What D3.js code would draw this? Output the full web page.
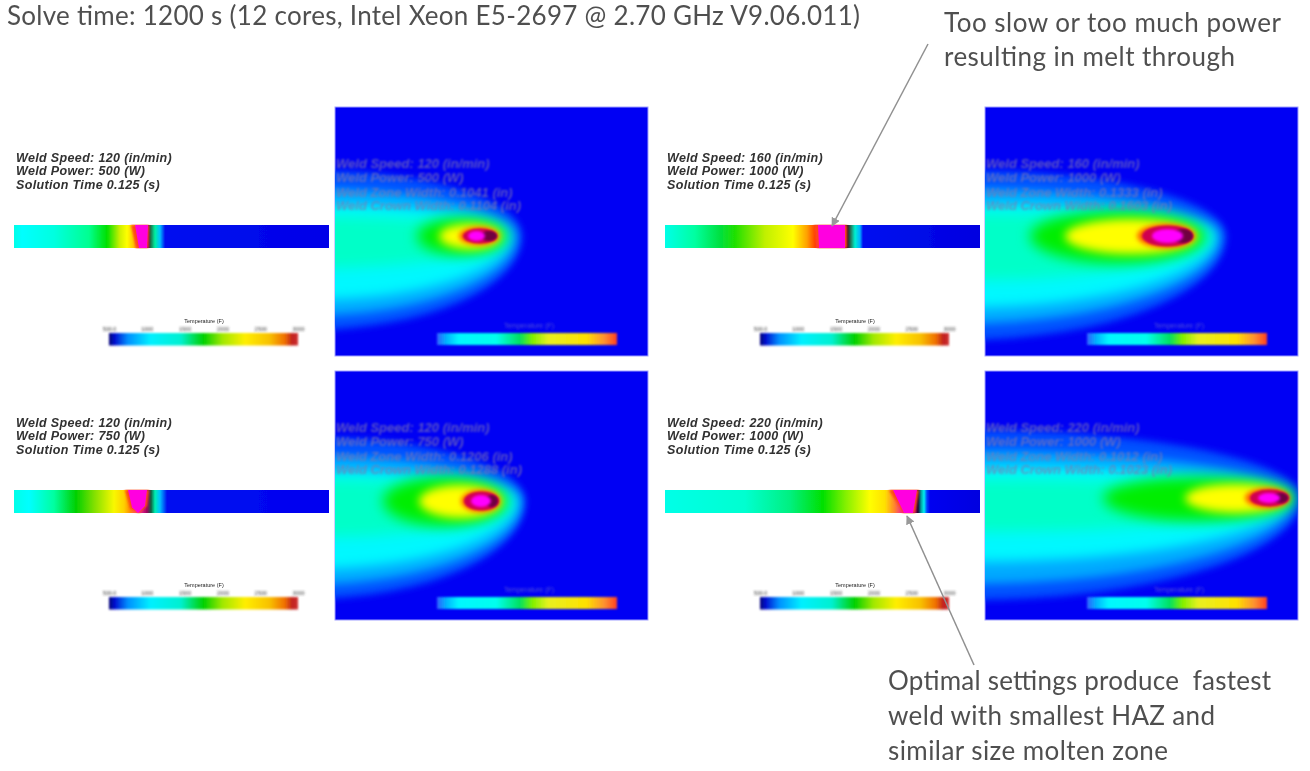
<!DOCTYPE html>
<html><head><meta charset="utf-8">
<script src="https://cdn.jsdelivr.net/npm/d3@7/dist/d3.min.js"></script>
<style>html,body{margin:0;padding:0;background:#fff;overflow:hidden}svg{display:block}</style>
</head><body><svg id="c" width="1310" height="771"></svg>
<script>
// ---------- data ----------
const weldSpeeds = [120, 160, 120, 220];
const weldPowers = [500, 1000, 750, 1000];
const solutionTime = 0.125;
const zoneWidths = ["0.1041", "0.1333", "0.1206", "0.1012"];
const crownWidths = ["0.1104", "0.1603", "0.1288", "0.1023"];
const barTicks = [500, 1000, 1500, 2000, 2500, 3000];
const barTickLabels = ["500.0", "1000", "1500", "2000", "2500", "3000"];
const barColors = [[0,"#000070"],[.03,"#0010d0"],[.1,"#0090ff"],[.22,"#00f0ff"],[.38,"#00f0d0"],[.5,"#00d000"],[.6,"#a0e800"],[.72,"#ffee00"],[.85,"#f8c000"],[.93,"#f07000"],[.97,"#c02020"],[1,"#d03030"]];
const insetBarColors = [[0,"#3060ff"],[.05,"#00b0ff"],[.12,"#00f8ff"],[.33,"#00ffee"],[.46,"#00e060"],[.53,"#80f000"],[.62,"#e8f020"],[.83,"#ffe000"],[.93,"#ff9030"],[1,"#ff4020"]];

// colour of each temperature level, from the coolest to the hottest
const levelColors = ["#0050ff","#00a8ff","#00f8ff","#00ffc8","#00ee00","#ffff00","#ff6000","#d00050","#700040","#ff00ff"];
const levelBlur = [3.5,5,6,7,7,5,2.5,1.2,1.2,1.5];
// temperature zones in the plan views: [left, right, above, below]
const planZones = [
 [[-243,187,66,94],[-230,181,48,80],[-222,175,32,64],[-215,167,20,32],[82,172,18,19],[104,166,12,13],[124,164,9,9],[128,162,7.5,7.5],[146,162,5,5],[133,150,5,5]],
 [[-290,241,66,104],[-280,235,48,88],[-272,229,32,72],[-262,225,23,44],[45,220,25,27],[80,212,17,18],[152,210,12,12],[157,208,10.5,10.5],[188,208,7,7],[167,198,7,7]],
 [[-247,190,64,98],[-235,186,46,84],[-226,181,30,68],[-218,175,22,36],[48,172,24,25],[84,167,16,17],[126,165,11,11],[129,164,9.5,9.5],[150,163,6,6],[136,156,6,6]],
 [[-350,316,68,102],[-340,309,48,86],[-330,304,32,64],[-320,299,19,34],[118,310,21,23],[200,302,14,15],[260,305,10,10],[265,304,8.5,8.5],[288,303,5,5],[273,295,5,5]]
];
// temperature along each side-view strip: [position, colour]
const stripStops = [
 [[0,"#00ffe8"],[8,"#00ffff"],[40,"#00ffe0"],[75,"#00ff90"],[93,"#00e000"],[106,"#d0f000"],[113,"#ffff00"],[120,"#ffc000"],[128,"#ff0060"],[134,"#a00060"],[136,"#206040"],[141,"#00f0a0"],[146,"#00c0ff"],[151,"#0010f0"],[315,"#0000e8"]],
 [[0,"#00ffe8"],[30,"#00ffa0"],[55,"#00e040"],[70,"#20e000"],[100,"#c0f000"],[128,"#ffff00"],[142,"#ffa000"],[150,"#ff4000"],[156,"#ff00c0"],[178,"#e000c0"],[182,"#300020"],[186,"#208060"],[190,"#00f0d0"],[195,"#00b0ff"],[198,"#0010f0"],[314,"#0000e0"]],
 [[0,"#00ffe8"],[15,"#00ffff"],[40,"#00ffa0"],[62,"#00d000"],[80,"#80e000"],[100,"#f8f800"],[110,"#ffd000"],[116,"#ff9000"],[125,"#ff30a0"],[133,"#a00060"],[137,"#106040"],[141,"#00f0b0"],[146,"#00c0ff"],[153,"#0010f0"],[315,"#0000f0"]],
 [[0,"#00ffe8"],[80,"#00ffd0"],[125,"#00f080"],[158,"#00e000"],[180,"#80f000"],[205,"#ffff00"],[220,"#ffe000"],[230,"#ff8030"],[240,"#f000c0"],[250,"#900070"],[253,"#200030"],[256,"#00a0a0"],[259,"#00f0f0"],[262,"#0040ff"],[265,"#0000f0"],[314,"#0000e0"]]
];
// melt pool outline in each strip: [position along, fraction of depth]
const poolHalos = [
 [[117,0],[135,0],[134,1],[122,1]],
 [[149,0],[182,0],[182,1],[152,1]],
 [[111,0],[135,0],[133,.7],[125,1],[116,.8]],
 [[224,0],[254,0],[250,1],[238,1]]
];
const poolOutlines = [
 [[121,0],[134,0],[133,1],[125,1]],
 [[153,0],[180,0],[180,1],[154,1]],
 [[114,0],[133,0],[131,.7],[124,1],[118,.75]],
 [[228,0],[252,0],[248,1],[239,1]]
];
const titleText = "Solve time: 1200 s (12 cores, Intel Xeon E5-2697 @ 2.70 GHz V9.06.011)";
const noteTop = ["Too slow or too much power","resulting in melt through"];
const noteBottom = ["Optimal settings produce  fastest","weld with smallest HAZ and","similar size molten zone"];

// ---------- layout ----------
const colStrip = [14, 665], colPlan = [335, 985], rowPlanTop = [107, 371], rowStripTop = [225, 490];
const planW = 313, planH = 249, stripW = 315, stripH = 23;
const planCentre = [129, 129, 130, 127];
const svg = d3.select("#c");
const defs = svg.append("defs");
function blur(id, s){ defs.append("filter").attr("id",id).attr("x","-40%").attr("y","-80%").attr("width","180%").attr("height","260%")
  .append("feGaussianBlur").attr("stdDeviation",s); }
blur("tx",.6); blur("txs",.8); blur("txb",.65); blur("edge",.6); blur("halo",1.1); blur("bb",1); blur("arrowb",.6);
levelBlur.forEach((s,i)=>blur("lv"+i,s));
function gradient(id, stops, maxPos){
  const g = defs.append("linearGradient").attr("id",id);
  const sc = d3.scaleLinear().domain([0,maxPos]).range([0,1]);
  stops.forEach(d=>g.append("stop").attr("offset",sc(d[0])).attr("stop-color",d[1]));
}
gradient("bar",barColors,1); gradient("ibar",insetBarColors,1);
stripStops.forEach((s,i)=>gradient("strip"+i,s,stripW));

d3.range(4).forEach(i=>{
  const col = i%2, row = i<2 ? 0 : 1;
  const px = colPlan[col], py = rowPlanTop[row];
  const x = d3.scaleLinear().domain([0,planW]).range([px,px+planW]);
  const y = d3.scaleLinear().domain([0,planH]).range([py,py+planH]);
  const c = planCentre[i];
  defs.append("clipPath").attr("id","cp"+i).append("rect").attr("x",px).attr("y",py).attr("width",planW).attr("height",planH);
  svg.append("rect").attr("x",px).attr("y",py).attr("width",planW).attr("height",planH).attr("fill","#0000f4")
     .attr("stroke","#a0a0ff").attr("stroke-width",1);
  const plan = svg.append("g").attr("clip-path",`url(#cp${i})`);
  plan.selectAll("path.z").data(planZones[i]).join("path").attr("class","z")
    .attr("fill",(d,k)=>levelColors[k]).attr("filter",(d,k)=>`url(#lv${k})`)
    .attr("d",d=>{
      const cx=(x(d[0])+x(d[1]))/2, rx=(x(d[1])-x(d[0]))/2, cy=y(c);
      const ta=y(c)-y(c-d[2]), tb=y(c+d[3])-y(c);
      return `M${cx-rx},${cy}A${rx},${ta} 0 0 1 ${cx+rx},${cy}A${rx},${tb} 0 0 1 ${cx-rx},${cy}Z`;
    });
  // plan-view text
  const planLines = [`Weld Speed: ${weldSpeeds[i]} (in/min)`,`Weld Power: ${weldPowers[i]} (W)`,`Weld Zone Width: ${zoneWidths[i]} (in)`,`Weld Crown Width: ${crownWidths[i]} (in)`];
  const planY = [57,71,86,99];
  plan.selectAll("text.l").data(planLines).join("text").attr("class","l")
    .attr("x",px+1).attr("y",(d,k)=>y(planY[k])+4).text(d=>d)
    .attr("font-family","Liberation Sans").attr("font-size",13).attr("font-style","italic").attr("font-weight","bold")
    .attr("fill","#8078b0").attr("opacity",.7).attr("filter","url(#txs)");
  // plan-view inset colour bar
  const ibx = colPlan[col] + 102;
  plan.append("rect").attr("x",ibx).attr("y",py+226).attr("width",180).attr("height",12).attr("fill","url(#ibar)").attr("filter","url(#bb)");
  plan.append("text").attr("x",ibx+92).attr("y",py+221).attr("text-anchor","middle").text("Temperature (F)")
    .attr("font-family","Liberation Sans").attr("font-size",7).attr("fill","#5050d8").attr("filter","url(#bb)");

  // side-view strip
  const sx0 = colStrip[col], sy0 = rowStripTop[row];
  const sx = d3.scaleLinear().domain([0,stripW]).range([sx0,sx0+stripW]);
  const sy = d3.scaleLinear().domain([0,1]).range([sy0,sy0+stripH]);
  svg.append("rect").attr("x",sx0).attr("y",sy0).attr("width",stripW).attr("height",stripH)
    .attr("fill",`url(#strip${i})`).attr("filter","url(#edge)");
  defs.append("clipPath").attr("id","sp"+i).append("rect").attr("x",sx0).attr("y",sy0-1).attr("width",stripW).attr("height",stripH+2);
  const sg = svg.append("g").attr("clip-path",`url(#sp${i})`);
  const line = d3.line().x(d=>sx(d[0])).y(d=>sy(d[1])).curve(d3.curveLinearClosed);
  sg.append("path").datum(poolHalos[i]).attr("d",line).attr("fill","#ff4818").attr("filter","url(#halo)");
  sg.append("path").datum(poolOutlines[i]).attr("d",line).attr("fill","#ff00e0").attr("filter","url(#edge)");

  // side-view labels
  const labels = [`Weld Speed: ${weldSpeeds[i]} (in/min)`,`Weld Power: ${weldPowers[i]} (W)`,`Solution Time ${solutionTime} (s)`];
  const labelTop = [162,427];
  svg.selectAll(null).data(labels).join("text")
    .attr("x",sx0+2).attr("y",(d,k)=>labelTop[row]+k*13.3).text(d=>d)
    .attr("font-family","Liberation Sans").attr("font-size",12.5).attr("font-style","italic").attr("font-weight","bold")
    .attr("letter-spacing",.35).attr("fill","#303030").attr("filter","url(#tx)");

  // colour bar with axis
  const bx0 = sx0 + 95, by0 = [333,597][row], bw = 189, bh = 12.5;
  const bscale = d3.scalePoint().domain(barTicks).range([bx0,bx0+bw]);
  svg.append("rect").attr("x",bx0).attr("y",by0).attr("width",bw).attr("height",bh).attr("fill","url(#bar)").attr("filter","url(#bb)");
  const ag = svg.append("g").attr("transform",`translate(0,${by0-2})`).attr("filter","url(#bb)")
    .call(d3.axisTop(bscale).tickSize(0).tickPadding(0).tickFormat((d,k)=>barTickLabels[k]));
  ag.select(".domain").remove();
  ag.selectAll("text").attr("font-family","Liberation Sans").attr("font-size",5.5).attr("fill","#444");
  svg.append("text").attr("x",bx0+95).attr("y",by0-10).attr("text-anchor","middle").text("Temperature (F)")
    .attr("font-family","Liberation Sans").attr("font-size",5.5).attr("fill","#222").attr("filter","url(#edge)");
});

// ---------- title and notes ----------
const noteFont = {family:"Lato", colour:"#505050"};
function label(t,x0,y0,len,size){
  svg.append("text").attr("x",x0).attr("y",y0).text(t).attr("font-family",noteFont.family).attr("font-size",size)
     .attr("fill",noteFont.colour).attr("textLength",len).attr("lengthAdjust","spacing").attr("filter","url(#txb)").style("white-space","pre");
}
label(titleText,7,25,853,26);
label(noteTop[0],944,32,337,26);
label(noteTop[1],944,66,291,26);
label(noteBottom[0],888,690,383,26);
label(noteBottom[1],888,725,327,26);
label(noteBottom[2],888,760,280,26);

// ---------- arrows ----------
defs.append("marker").attr("id","ah").attr("viewBox","0 0 10 10").attr("refX",9).attr("refY",5)
  .attr("markerWidth",9).attr("markerHeight",9).attr("markerUnits","userSpaceOnUse").attr("orient","auto")
  .append("path").attr("d","M0,0L10,5L0,10Z").attr("fill","#999");
[[[928,44],[832,226]],[[974,665],[907,516]]].forEach(a=>{
  svg.append("line").attr("x1",a[0][0]).attr("y1",a[0][1]).attr("x2",a[1][0]).attr("y2",a[1][1])
    .attr("stroke","#909090").attr("stroke-width",1.5).attr("marker-end","url(#ah)").attr("filter","url(#arrowb)");
});
</script></body></html>
